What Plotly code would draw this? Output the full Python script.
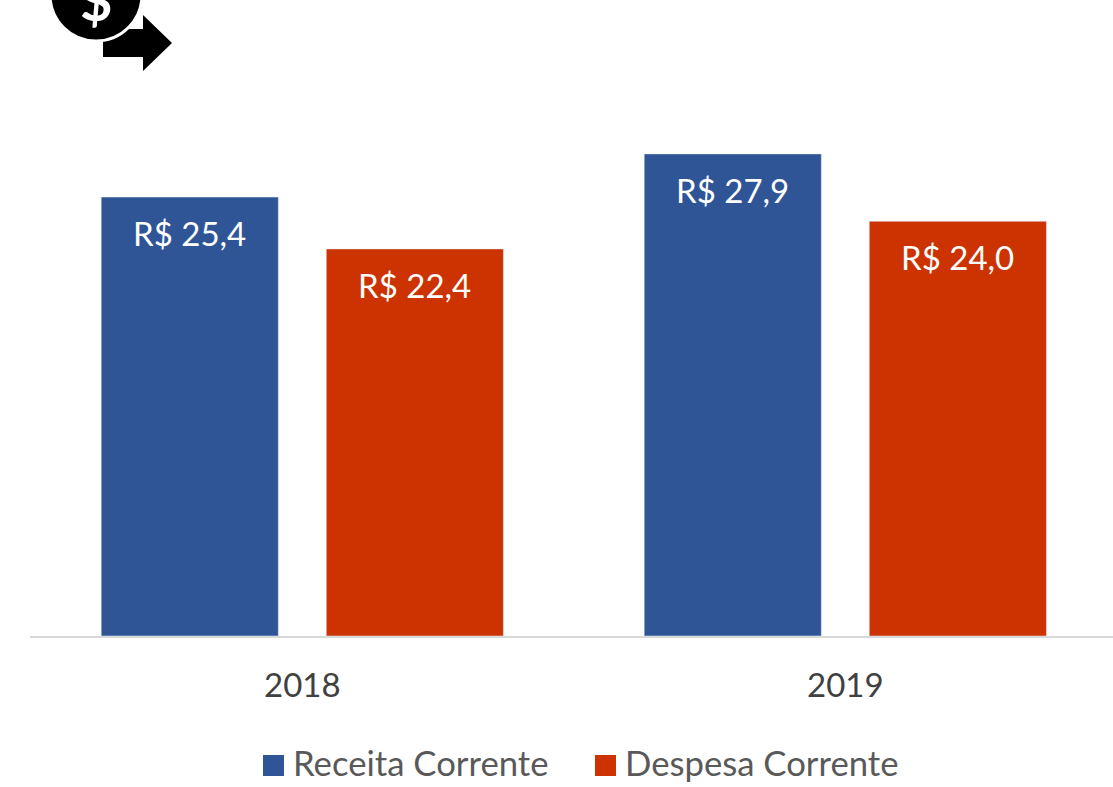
import plotly.graph_objects as go

years = ["2018", "2019"]
receita = [25.4, 27.9]
despesa = [22.4, 24.0]
receita_labels = ["R$ 25,4", "R$ 27,9"]
despesa_labels = ["R$ 22,4", "R$ 24,0"]
series_names = ["Receita Corrente", "Despesa Corrente"]
series_colors = ["#2F5597", "#CC3300"]

W, H = 1113, 787
L, R, T, B = 30, 0, 60, 151
FONT = "Lato"
PW, PH = W - L - R, H - T - B


def px(x):
    return (x - L) / PW


def py(y):
    return 1 - (y - T) / PH


fig = go.Figure()
for name, vals, color in zip(series_names, [receita, despesa], series_colors):
    fig.add_bar(x=years, y=vals, name=name, marker_color=color, showlegend=False)

annotations = []
for vals, labels, shift in [(receita, receita_labels, -112.5), (despesa, despesa_labels, 112.5)]:
    for i, (v, lab) in enumerate(zip(vals, labels)):
        annotations.append(dict(xref="x", yref="y", x=i, y=v, text=lab, showarrow=False,
                                xshift=shift - 0.5, yshift=-36, xanchor="center", yanchor="middle",
                                font=dict(family=FONT, size=33, color="#FFFFFF")))

# Legend drawn to the reference's swatch size
shapes = []
for name, color, sx, tx in zip(series_names, series_colors, [263, 595], [294, 626]):
    shapes.append(dict(type="rect", xref="paper", yref="paper", x0=px(sx), x1=px(sx + 21),
                       y0=py(776), y1=py(755), fillcolor=color, line_width=0))
    annotations.append(dict(xref="paper", yref="paper", x=px(tx - 3), y=py(762), text=name, showarrow=False,
                            xanchor="left", yanchor="middle",
                            font=dict(family=FONT, size=34.7, color="#595959")))

# Icon: arrow, then coin with a white rim
shapes.append(dict(type="path", xref="paper", yref="paper", fillcolor="#000000", line_width=0,
                   path="M{},{} L{},{} L{},{} L{},{} L{},{} L{},{} L{},{} Z".format(
                       px(103), py(29), px(143), py(29), px(143), py(15), px(172), py(43),
                       px(143), py(71), px(143), py(57), px(103), py(57))))
shapes.append(dict(type="circle", xref="paper", yref="paper", x0=px(50), x1=px(142),
                   y0=py(41), y1=py(-51), fillcolor="#000000", line=dict(color="#FFFFFF", width=3)))
annotations.append(dict(xref="paper", yref="paper", x=px(96), y=py(0), text="<b>$</b>", showarrow=False,
                        xanchor="center", yanchor="middle",
                        font=dict(family=FONT, size=56, color="#FFFFFF")))

fig.update_layout(
    width=W, height=H, margin=dict(l=L, r=R, t=T, b=B, pad=0),
    paper_bgcolor="#FFFFFF", plot_bgcolor="#FFFFFF",
    barmode="group", bargap=0.171, bargroupgap=0.213,
    showlegend=False, shapes=shapes, annotations=annotations,
    xaxis=dict(type="category", range=[-0.5015, 1.493], showgrid=False, ticks="", showline=True,
               linecolor="#D9D9D9", linewidth=2, ticklabelstandoff=19,
               tickfont=dict(family=FONT, size=33, color="#404040"), ticklen=0),
    yaxis=dict(range=[0, PH / 17.28], visible=False, showgrid=False, zeroline=False),
)
fig.write_html("out.html", config=dict(displayModeBar=False),
               post_script="document.body.style.margin='0';document.body.style.overflow='hidden';")
